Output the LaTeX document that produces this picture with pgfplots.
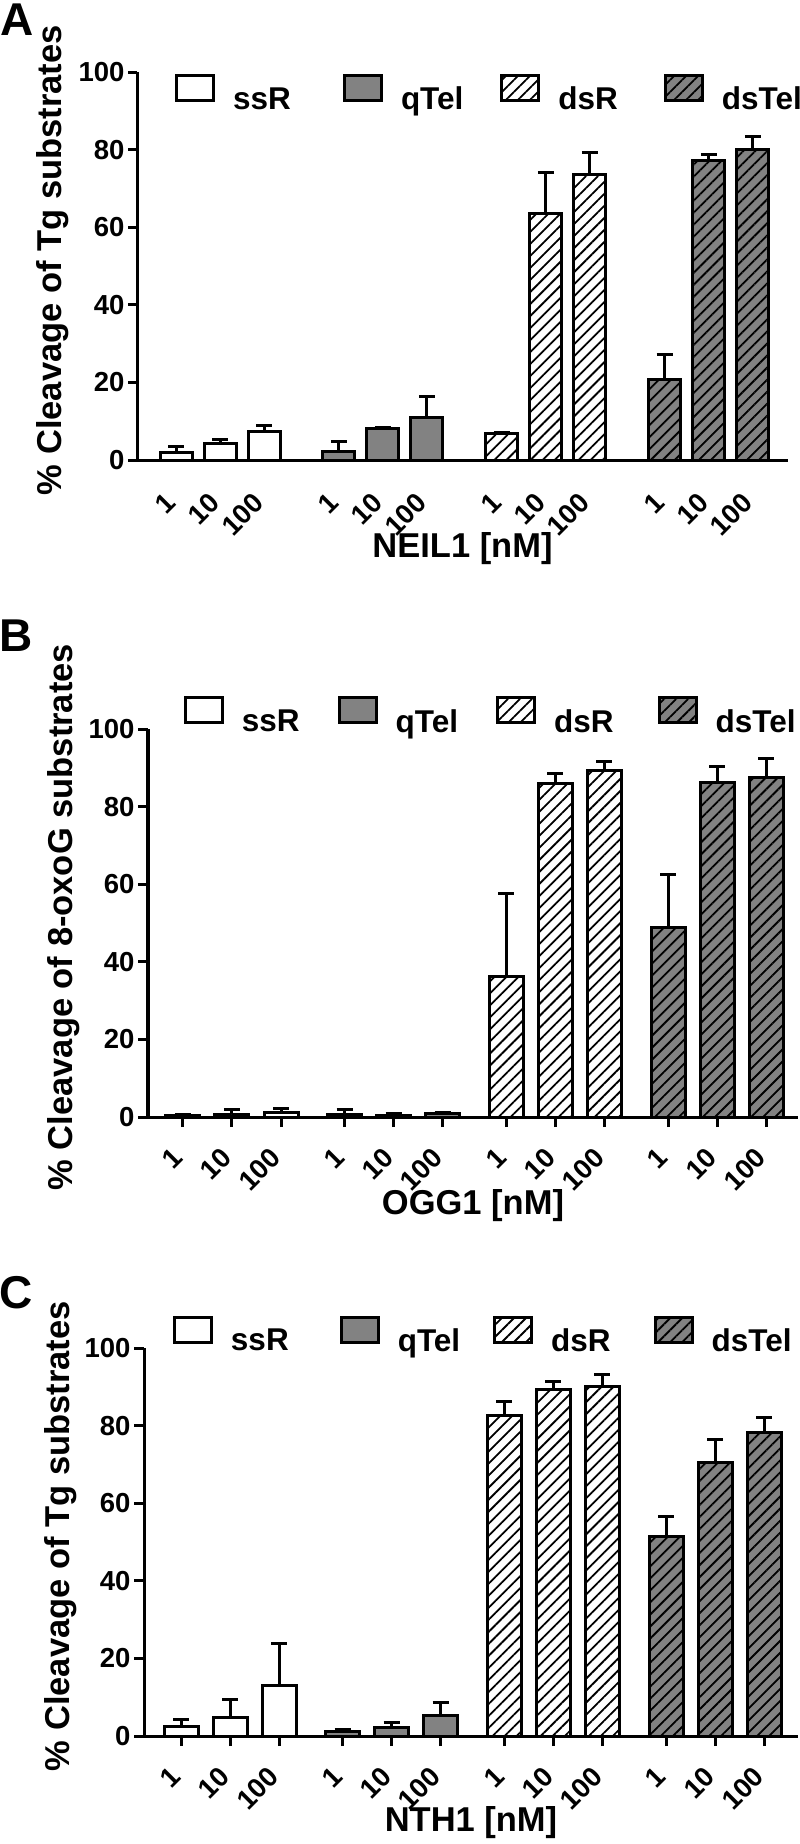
\documentclass[border=0pt]{standalone}
\usepackage{fontspec}
\setmainfont{Liberation Sans}
\usepackage{pgfplots}
\pgfplotsset{compat=1.18}
\usetikzlibrary{patterns.meta}

\definecolor{barGray}{RGB}{130,130,130}

% bar styles, one per substrate
\tikzset{
  ssR/.style={draw=black, fill=white, line width=3pt},
  qTel/.style={draw=black, fill=barGray, line width=3pt},
  dsR/.style={draw=black, line width=3pt, preaction={fill=white},
    pattern={Lines[angle=45,distance=8.5pt,line width=1.8pt]}, pattern color=black},
  dsTel/.style={draw=black, line width=3pt, preaction={fill=barGray},
    pattern={Lines[angle=45,distance=8.5pt,line width=1.8pt]}, pattern color=black},
}

\pgfplotsset{
  panel/.style={
    scale only axis, clip=false,
    axis x line*=bottom, axis y line*=left,
    axis line style={line width=3pt, black},
    ymin=0, ymax=100, ytick={0,20,40,60,80,100},
    enlargelimits=false,
    tick align=outside, major tick length=9pt,
    tick style={line width=3pt, black},
    ybar,
    xticklabels={1,10,100,1,10,100,1,10,100,1,10,100},
    ticklabel style={font=\bfseries\fontsize{27.5}{27.5}\selectfont},
    /pgf/number format/assume math mode=true,
    label style={font=\bfseries\fontsize{34.5}{34.5}\selectfont},
    xlabel style={anchor=center},
    ylabel style={anchor=center},
    legend columns=4,
    legend image code/.code={\draw[##1] (0pt,-1.5pt) rectangle (37pt,23.5pt);},
    legend style={draw=none, fill=none, anchor=west, inner sep=0pt,
      font=\bfseries\fontsize{31.5}{31.5}\selectfont, nodes={inner sep=0pt},
      /tikz/every odd column/.append style={column sep=18pt}},
  },
  ebar/.style={bar shift=0pt, forget plot,
    /pgfplots/error bars/y dir=plus,
    /pgfplots/error bars/y explicit,
    /pgfplots/error bars/error bar style={line width=3pt, draw=black, solid},
    /pgfplots/error bars/error mark options={rotate=90, line width=3pt, mark size=8pt, draw=black}},
}

\begin{document}
\begin{tikzpicture}
\useasboundingbox (0,0) rectangle (800pt,-1844pt);

\node[font=\bfseries\fontsize{46}{46}\selectfont] at (17pt,-20pt) {A};
\node[font=\bfseries\fontsize{46}{46}\selectfont] at (16pt,-636pt) {B};
\node[font=\bfseries\fontsize{46}{46}\selectfont] at (16pt,-1293pt) {C};

%% A: NEIL1
\begin{axis}[panel, at={(137pt,-460pt)}, anchor=south west,
  width=651pt, height=388pt, xmin=-0.886, xmax=13.9, bar width=32pt,
  xtick={0,1,2,3.7,4.7,5.7,7.4,8.4,9.4,11.1,12.1,13.1},
  xtick style={draw=none},
  xticklabel style={xshift=-5pt, yshift=-29pt, rotate=45, anchor=east, inner sep=0pt},
  xlabel={NEIL1 [nM]}, ylabel={\% Cleavage of Tg substrates},
  xlabel style={at={(axis description cs:0.5,-0.229)}},
  ylabel style={at={(axis description cs:-0.129,0.515)}},
  legend style={at={(axis description cs:0.0584,0.947)},
    /tikz/column 2/.style={column sep=52pt},
    /tikz/column 4/.style={column sep=37pt},
    /tikz/column 6/.style={column sep=46pt}},
  legend entries={ssR,qTel,dsR,dsTel},
]
\addlegendimage{ssR}
\addlegendimage{qTel}
\addlegendimage{dsR}
\addlegendimage{dsTel}
\addplot[ssR, ebar] table[x=x, y=y, y error=e, row sep=\\] {
x y e \\ 0 2.0 1.4 \\ 1 4.3 1.1 \\ 2 7.3 1.7 \\};
\addplot[qTel, ebar] table[x=x, y=y, y error=e, row sep=\\] {
x y e \\ 3.7 2.3 2.4 \\ 4.7 8.0 0.3 \\ 5.7 10.9 5.4 \\};
\addplot[dsR, ebar] table[x=x, y=y, y error=e, row sep=\\] {
x y e \\ 7.4 6.8 0.3 \\ 8.4 63.5 10.5 \\ 9.4 73.6 5.7 \\};
\addplot[dsTel, ebar] table[x=x, y=y, y error=e, row sep=\\] {
x y e \\ 11.1 20.7 6.4 \\ 12.1 77.2 1.6 \\ 13.1 79.9 3.5 \\};
\end{axis}

%% B: OGG1
\begin{axis}[panel, at={(148pt,-1117pt)}, anchor=south west,
  width=650pt, height=388pt, xmin=-0.714, xmax=12.55, bar width=34pt,
  xtick={0,1,2,3.3,4.3,5.3,6.6,7.6,8.6,9.9,10.9,11.9},
  major tick length=10pt,
  xticklabel style={xshift=-5pt, yshift=-26pt, rotate=45, anchor=east, inner sep=0pt},
  xlabel={OGG1 [nM]}, ylabel={\% Cleavage of 8-oxoG substrates},
  xlabel style={at={(axis description cs:0.5,-0.227)}},
  ylabel style={at={(axis description cs:-0.129,0.515)}},
  legend style={at={(axis description cs:0.055,1.036)},
    /tikz/column 2/.style={column sep=38pt},
    /tikz/column 4/.style={column sep=38pt},
    /tikz/column 6/.style={column sep=44pt}},
  legend entries={ssR,qTel,dsR,dsTel},
]
\addlegendimage{ssR}
\addlegendimage{qTel}
\addlegendimage{dsR}
\addlegendimage{dsTel}
\addplot[ssR, ebar] table[x=x, y=y, y error=e, row sep=\\] {
x y e \\ 0 0.3 0.3 \\ 1 0.7 1.2 \\ 2 1.2 1.1 \\};
\addplot[qTel, ebar] table[x=x, y=y, y error=e, row sep=\\] {
x y e \\ 3.3 0.7 1.2 \\ 4.3 0.5 0.3 \\ 5.3 0.8 0.4 \\};
\addplot[dsR, ebar] table[x=x, y=y, y error=e, row sep=\\] {
x y e \\ 6.6 36.3 21.3 \\ 7.6 86.0 2.5 \\ 8.6 89.2 2.3 \\};
\addplot[dsTel, ebar] table[x=x, y=y, y error=e, row sep=\\] {
x y e \\ 9.9 48.8 13.7 \\ 10.9 86.2 4.1 \\ 11.9 87.6 4.7 \\};
\end{axis}

%% C: NTH1
\begin{axis}[panel, at={(144pt,-1736pt)}, anchor=south west,
  width=654pt, height=388pt, xmin=-0.755, xmax=12.59, bar width=34pt,
  xtick={0,1,2,3.3,4.3,5.3,6.6,7.6,8.6,9.9,10.9,11.9},
  major tick length=10pt,
  xticklabel style={xshift=-5pt, yshift=-26pt, rotate=45, anchor=east, inner sep=0pt},
  xlabel={NTH1 [nM]}, ylabel={\% Cleavage of Tg substrates},
  xlabel style={at={(axis description cs:0.5,-0.222)}},
  ylabel style={at={(axis description cs:-0.128,0.515)}},
  legend style={at={(axis description cs:0.044,1.035)},
    /tikz/column 2/.style={column sep=51pt},
    /tikz/column 4/.style={column sep=33pt},
    /tikz/column 6/.style={column sep=43pt}},
  legend entries={ssR,qTel,dsR,dsTel},
]
\addlegendimage{ssR}
\addlegendimage{qTel}
\addlegendimage{dsR}
\addlegendimage{dsTel}
\addplot[ssR, ebar] table[x=x, y=y, y error=e, row sep=\\] {
x y e \\ 0 2.4 1.9 \\ 1 4.8 4.5 \\ 2 13.1 10.8 \\};
\addplot[qTel, ebar] table[x=x, y=y, y error=e, row sep=\\] {
x y e \\ 3.3 1.1 0.7 \\ 4.3 2.1 1.3 \\ 5.3 5.4 3.2 \\};
\addplot[dsR, ebar] table[x=x, y=y, y error=e, row sep=\\] {
x y e \\ 6.6 82.6 3.6 \\ 7.6 89.3 2.1 \\ 8.6 90.1 3.0 \\};
\addplot[dsTel, ebar] table[x=x, y=y, y error=e, row sep=\\] {
x y e \\ 9.9 51.5 5.2 \\ 10.9 70.4 6.0 \\ 11.9 78.1 4.0 \\};
\end{axis}
\end{tikzpicture}
\end{document}
